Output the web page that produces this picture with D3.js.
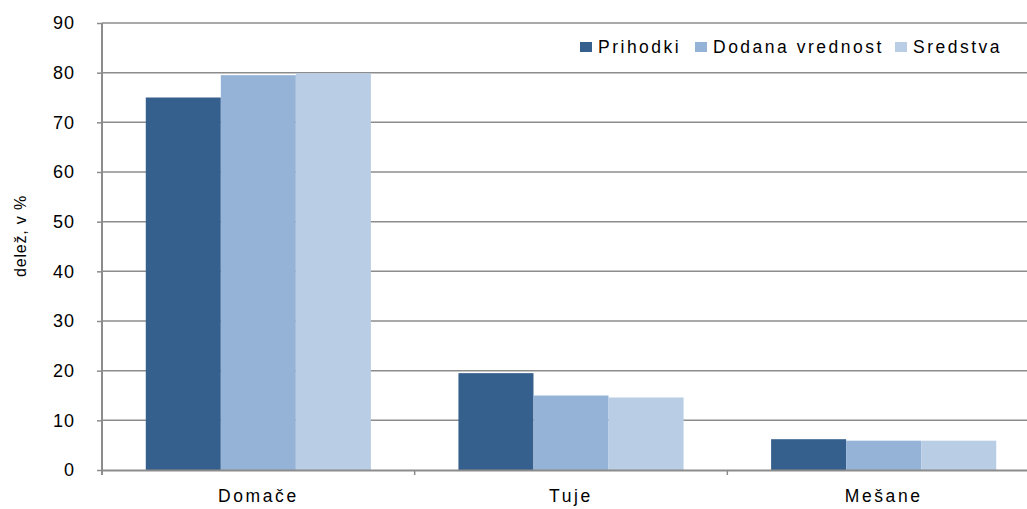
<!DOCTYPE html>
<html>
<head>
<meta charset="utf-8">
<script src="https://cdn.jsdelivr.net/npm/d3@7"></script>
<style>
  body { margin: 0; background: #fff; }
  text { font-family: "Liberation Sans", Arial, sans-serif; fill: #000; }
</style>
</head>
<body>
<div id="chart"></div>
<script>
const categories = ['Domače', 'Tuje', 'Mešane'];
const seriesNames = ['Prihodki', 'Dodana vrednost', 'Sredstva'];
const prihodki = [75.0, 19.5, 6.2];
const dodanaVrednost = [79.5, 15.0, 5.9];
const sredstva = [79.9, 14.6, 5.9];
const yTicks = [0, 10, 20, 30, 40, 50, 60, 70, 80, 90];
const yLabel = 'delež, v %';

const colors = ['#355f8d', '#95b3d7', '#b9cde5'];
const seriesValues = [prihodki, dodanaVrednost, sredstva];

const width = 1027, height = 509;
const margin = {top: 23, right: -13, bottom: 39, left: 102};
const plotW = width - margin.left - margin.right;
const plotH = height - margin.top - margin.bottom;
const font = '"Liberation Sans", Arial, sans-serif';

const svg = d3.select('#chart').append('svg')
    .attr('width', width)
    .attr('height', height);

const g = svg.append('g')
    .attr('transform', `translate(${margin.left},${margin.top})`);

const x0 = d3.scaleBand().domain(categories).range([0, plotW]).paddingInner(0).paddingOuter(0);
const x1 = d3.scaleBand().domain(seriesNames).range([x0.bandwidth() * 0.14, x0.bandwidth() * 0.86]);
const y = d3.scaleLinear().domain([0, 90]).range([plotH, 0]);

// gridlines
g.selectAll('.grid')
  .data(yTicks.filter(d => d > 0))
  .join('line')
    .attr('class', 'grid')
    .attr('x1', 0).attr('x2', plotW)
    .attr('y1', d => y(d)).attr('y2', d => y(d))
    .attr('stroke', '#8c8c8c')
    .attr('stroke-width', 1.5);

// bars
const groups = g.selectAll('.cat')
  .data(categories)
  .join('g')
    .attr('class', 'cat')
    .attr('transform', d => `translate(${x0(d)},0)`);

groups.selectAll('rect')
  .data((c, i) => seriesNames.map((s, j) => ({s, j, v: seriesValues[j][i]})))
  .join('rect')
    .attr('x', d => x1(d.s))
    .attr('width', x1.bandwidth())
    .attr('y', d => y(d.v))
    .attr('height', d => plotH - y(d.v))
    .attr('fill', d => colors[d.j]);

// y axis
const yAxis = g.append('g')
  .call(d3.axisLeft(y).tickValues(yTicks).tickSize(5).tickPadding(22));
yAxis.select('.domain').attr('stroke', '#8c8c8c').attr('stroke-width', 2).attr('d', `M0,${plotH + 5}V0`);
yAxis.selectAll('.tick line').attr('stroke', '#8c8c8c').attr('stroke-width', 1.5);
yAxis.selectAll('.tick text')
  .attr('font-size', 18).attr('font-family', font).attr('fill', '#000')
  .attr('letter-spacing', 1);

// x axis
const xAxis = g.append('g')
  .attr('transform', `translate(0,${plotH})`)
  .call(d3.axisBottom(x0).tickSize(0).tickPadding(20));
xAxis.select('.domain').attr('stroke', '#8c8c8c').attr('stroke-width', 2);
xAxis.selectAll('.tick text')
  .attr('font-size', 17.5).attr('font-family', font).attr('fill', '#000')
  .attr('letter-spacing', 2.6);
g.selectAll('.xsep')
  .data(categories.slice(1))
  .join('line')
    .attr('class', 'xsep')
    .attr('x1', d => x0(d)).attr('x2', d => x0(d))
    .attr('y1', plotH).attr('y2', plotH + 5)
    .attr('stroke', '#8c8c8c').attr('stroke-width', 1.5);

// y label
svg.append('text')
  .attr('transform', 'translate(26,236) rotate(-90)')
  .attr('text-anchor', 'middle')
  .attr('font-size', 16)
  .attr('letter-spacing', 0.8)
  .text(yLabel);

// legend
const legendX = [580, 695, 895];
const legend = svg.append('g').attr('transform', 'translate(0,47)');
seriesNames.forEach((s, i) => {
  legend.append('rect')
    .attr('x', legendX[i]).attr('y', -5)
    .attr('width', 12).attr('height', 10)
    .attr('fill', colors[i]);
  legend.append('text')
    .attr('x', legendX[i] + 18).attr('y', 0)
    .attr('dy', '0.36em')
    .attr('font-size', 17.5)
    .attr('letter-spacing', 2.5)
    .text(s);
});
</script>
</body>
</html>
